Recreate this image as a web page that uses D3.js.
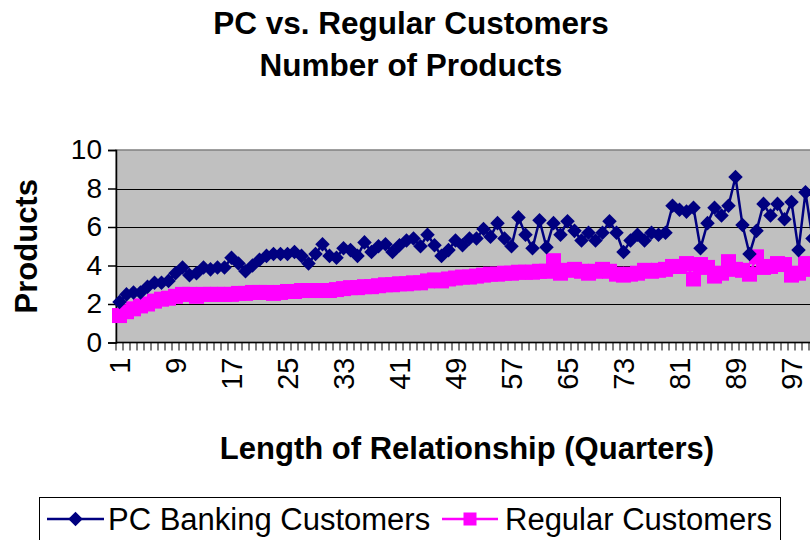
<!DOCTYPE html>
<html>
<head>
<meta charset="utf-8">
<script src="https://cdn.jsdelivr.net/npm/d3@7"></script>
<style>
  body { margin: 0; background: #fff; }
  svg { display: block; font-family: "Liberation Sans", Arial, sans-serif; }
</style>
</head>
<body>
<div id="chart"></div>
<script>
// quarters 1..100 (chart is cut off at the right edge)
const quarters = d3.range(1, 101);

const pcBanking = [
  2.1, 2.5, 2.6, 2.6, 2.9, 3.1, 3.1, 3.2, 3.6, 3.9,
  3.5, 3.6, 3.9, 3.8, 3.9, 3.9, 4.4, 4.1, 3.7, 4.0,
  4.3, 4.5, 4.6, 4.6, 4.6, 4.7, 4.5, 4.1, 4.6, 5.1,
  4.5, 4.4, 4.9, 4.8, 4.5, 5.2, 4.7, 5.0, 5.1, 4.7,
  5.05, 5.3, 5.4, 5.0, 5.6, 5.05, 4.5, 4.8, 5.3, 5.05,
  5.4, 5.4, 5.9, 5.5, 6.2, 5.4, 5.0, 6.5, 5.6, 4.9,
  6.35, 4.95, 6.2, 5.6, 6.3, 5.8, 5.3, 5.7, 5.3, 5.7,
  6.3, 5.7, 4.7, 5.3, 5.6, 5.3, 5.7, 5.6, 5.7, 7.1,
  6.9, 6.8, 7.0, 4.9, 6.2, 7.0, 6.6, 7.1, 8.6, 6.1,
  4.6, 5.8, 7.2, 6.6, 7.2, 6.4, 7.3, 4.8, 7.8, 5.4
];

const regular = [
  1.4, 1.6, 1.75, 1.9, 2.0, 2.15, 2.25, 2.3, 2.4, 2.5,
  2.5, 2.4, 2.5, 2.5, 2.5, 2.5, 2.5, 2.55, 2.55, 2.6,
  2.6, 2.6, 2.55, 2.6, 2.65, 2.65, 2.7, 2.7, 2.7, 2.7,
  2.7, 2.75, 2.8, 2.85, 2.85, 2.9, 2.9, 2.95, 3.0, 3.0,
  3.05, 3.05, 3.1, 3.1, 3.2, 3.25, 3.2, 3.3, 3.35, 3.4,
  3.4, 3.45, 3.5, 3.55, 3.55, 3.6, 3.6, 3.65, 3.65, 3.65,
  3.7, 3.7, 4.25, 3.6, 3.75, 3.8, 3.7, 3.6, 3.7, 3.8,
  3.7, 3.55, 3.5, 3.55, 3.6, 3.75, 3.7, 3.75, 3.8, 3.95,
  3.95, 4.1, 3.3, 4.05, 3.9, 3.45, 3.6, 4.2, 3.8, 3.75,
  3.55, 4.45, 3.9, 3.95, 4.1, 4.05, 3.5, 3.6, 4.1, 3.8
];

const yTicks = [0, 2, 4, 6, 8, 10];
const xLabelEvery = 8;

const width = 810, height = 540;
const plot = { left: 116, top: 150, right: 816, bottom: 342.5 };

const svg = d3.select('#chart')
  .append('svg')
  .attr('width', width)
  .attr('height', height);

const x = d3.scaleBand()
  .domain(quarters)
  .range([plot.left, plot.right]);

const y = d3.scaleLinear()
  .domain([0, 10])
  .range([plot.bottom, plot.top]);

const cx = d => x(d) + x.bandwidth() / 2;

// plot area
svg.append('rect')
  .attr('x', plot.left)
  .attr('y', plot.top)
  .attr('width', plot.right - plot.left)
  .attr('height', plot.bottom - plot.top)
  .attr('fill', '#c0c0c0')
  .attr('stroke', '#808080')
  .attr('stroke-width', 1.5);

// gridlines
svg.append('g')
  .selectAll('line')
  .data(yTicks.filter(t => t > 0 && t < 10))
  .join('line')
  .attr('x1', plot.left)
  .attr('x2', plot.right)
  .attr('y1', d => Math.round(y(d)) + 0.5)
  .attr('y2', d => Math.round(y(d)) + 0.5)
  .attr('stroke', '#000')
  .attr('stroke-width', 1);

// y axis
const yAxis = svg.append('g')
  .attr('transform', `translate(${plot.left},0)`)
  .call(d3.axisLeft(y).tickValues(yTicks).tickSize(8).tickPadding(6));
yAxis.select('.domain').attr('stroke', '#000').attr('stroke-width', 1.5);
yAxis.selectAll('.tick line').attr('stroke', '#000').attr('stroke-width', 1.5);
yAxis.selectAll('text')
  .attr('font-size', 28)
  .attr('font-family', '"Liberation Sans", Arial, sans-serif')
  .attr('fill', '#000');

// x axis: tick at each category boundary, label every 8th quarter
const xAxis = svg.append('g')
  .attr('transform', `translate(0,${plot.bottom})`);
xAxis.append('line')
  .attr('x1', plot.left).attr('x2', plot.right)
  .attr('stroke', '#000').attr('stroke-width', 1.5);
xAxis.selectAll('line.tk')
  .data(quarters.concat([quarters.length + 1]))
  .join('line')
  .attr('class', 'tk')
  .attr('x1', d => plot.left + (d - 1) * x.step())
  .attr('x2', d => plot.left + (d - 1) * x.step())
  .attr('y1', 0).attr('y2', 8)
  .attr('stroke', '#000').attr('stroke-width', 1);
xAxis.selectAll('text')
  .data(quarters.filter(q => (q - 1) % xLabelEvery === 0))
  .join('text')
  .attr('transform', d => `translate(${cx(d) + 10},15) rotate(-90)`)
  .attr('text-anchor', 'end')
  .attr('font-size', 29)
  .text(d => d);

// lines + markers
const line = d3.line()
  .x((d, i) => cx(quarters[i]))
  .y(d => y(d));

svg.append('path')
  .datum(regular)
  .attr('fill', 'none')
  .attr('stroke', '#ff00ff')
  .attr('stroke-width', 2.5)
  .attr('d', line);

svg.append('g')
  .selectAll('rect')
  .data(regular)
  .join('rect')
  .attr('x', (d, i) => cx(quarters[i]) - 7.5)
  .attr('y', d => y(d) - 7.5)
  .attr('width', 15)
  .attr('height', 15)
  .attr('fill', '#ff00ff');

svg.append('path')
  .datum(pcBanking)
  .attr('fill', 'none')
  .attr('stroke', '#000080')
  .attr('stroke-width', 2.5)
  .attr('d', line);

const diamond = d3.symbol().type(d3.symbolDiamond2).size(135);
svg.append('g')
  .selectAll('path')
  .data(pcBanking)
  .join('path')
  .attr('transform', (d, i) => `translate(${cx(quarters[i])},${y(d)})`)
  .attr('d', diamond)
  .attr('fill', '#000080');

// titles
const title = svg.append('text')
  .attr('x', 411)
  .attr('text-anchor', 'middle')
  .attr('font-size', 31.5)
  .attr('font-weight', 'bold');
title.append('tspan').attr('x', 411).attr('y', 34).text('PC vs. Regular Customers');
title.append('tspan').attr('x', 411).attr('y', 76).text('Number of Products');

svg.append('text')
  .attr('transform', `translate(37,${(plot.top + plot.bottom) / 2}) rotate(-90)`)
  .attr('text-anchor', 'middle')
  .attr('font-size', 31)
  .attr('font-weight', 'bold')
  .text('Products');

svg.append('text')
  .attr('x', 467)
  .attr('y', 459)
  .attr('text-anchor', 'middle')
  .attr('font-size', 31)
  .attr('font-weight', 'bold')
  .text('Length of Relationship (Quarters)');

// legend
const legend = svg.append('g');
legend.append('rect')
  .attr('x', 39.5).attr('y', 497.5)
  .attr('width', 741).attr('height', 60)
  .attr('fill', '#fff')
  .attr('stroke', '#000')
  .attr('stroke-width', 1);

legend.append('line')
  .attr('x1', 47).attr('x2', 104).attr('y1', 519).attr('y2', 519)
  .attr('stroke', '#000080').attr('stroke-width', 2.5);
legend.append('path')
  .attr('transform', 'translate(75.5,519)')
  .attr('d', diamond)
  .attr('fill', '#000080');
legend.append('text')
  .attr('x', 108).attr('y', 530)
  .attr('font-size', 31)
  .text('PC Banking Customers');

legend.append('line')
  .attr('x1', 442).attr('x2', 498).attr('y1', 519).attr('y2', 519)
  .attr('stroke', '#ff00ff').attr('stroke-width', 2.5);
legend.append('rect')
  .attr('x', 463.5).attr('y', 512.5).attr('width', 13).attr('height', 13)
  .attr('fill', '#ff00ff');
legend.append('text')
  .attr('x', 505).attr('y', 530)
  .attr('font-size', 31)
  .text('Regular Customers');
</script>
</body>
</html>
